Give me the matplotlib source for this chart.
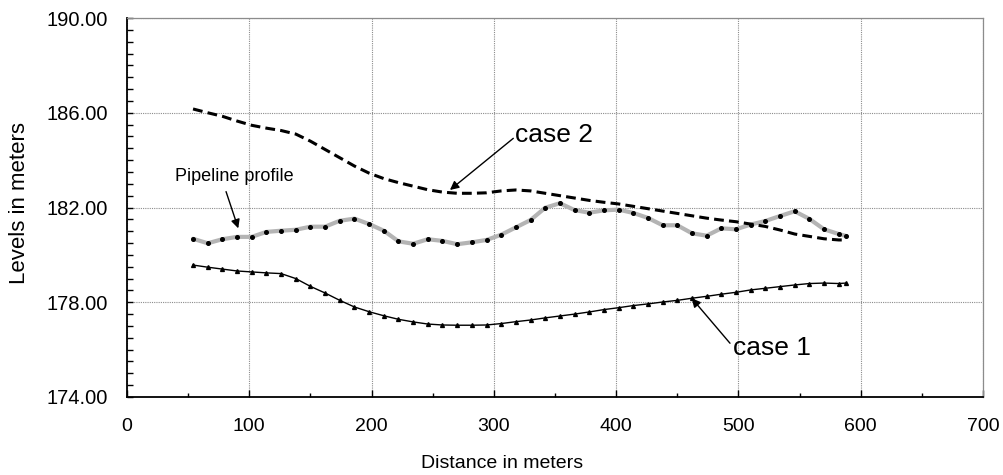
import matplotlib
matplotlib.use("Agg")
import matplotlib.pyplot as plt
from matplotlib.ticker import MultipleLocator, FormatStrFormatter

plt.rcParams['font.family'] = ['Liberation Sans', 'DejaVu Sans']

# ---- data ----
distance = [54, 66, 78, 90, 102, 114, 126, 138, 150, 162, 174, 186, 198, 210, 222,
            234, 246, 258, 270, 282, 294, 306, 318, 330, 342, 354, 366, 378, 390,
            402, 414, 426, 438, 450, 462, 474, 486, 498, 510, 522, 534, 546, 558,
            570, 582, 588]

pipeline = [180.68, 180.49, 180.66, 180.76, 180.76, 180.97, 181.02, 181.06, 181.19,
            181.19, 181.44, 181.53, 181.30, 181.02, 180.57, 180.47, 180.66, 180.59,
            180.45, 180.53, 180.63, 180.85, 181.16, 181.47, 181.99, 182.18, 181.89,
            181.78, 181.88, 181.91, 181.77, 181.56, 181.25, 181.25, 180.91, 180.81,
            181.12, 181.08, 181.28, 181.43, 181.64, 181.84, 181.52, 181.08, 180.88,
            180.80]

case1 = [179.57, 179.48, 179.40, 179.32, 179.28, 179.24, 179.21, 179.00, 178.67,
         178.39, 178.08, 177.80, 177.60, 177.43, 177.28, 177.17, 177.08, 177.04,
         177.03, 177.03, 177.04, 177.10, 177.18, 177.25, 177.34, 177.42, 177.50,
         177.59, 177.69, 177.77, 177.86, 177.93, 178.01, 178.08, 178.17, 178.25,
         178.34, 178.42, 178.52, 178.59, 178.66, 178.73, 178.79, 178.81, 178.79,
         178.81]

case2 = [186.16, 186.00, 185.85, 185.65, 185.47, 185.35, 185.25, 185.10, 184.80,
         184.45, 184.10, 183.75, 183.45, 183.22, 183.05, 182.90, 182.75, 182.65,
         182.60, 182.60, 182.62, 182.70, 182.74, 182.70, 182.60, 182.50, 182.40,
         182.30, 182.22, 182.15, 182.05, 181.95, 181.85, 181.75, 181.65, 181.55,
         181.47, 181.40, 181.30, 181.20, 181.05, 180.88, 180.78, 180.68, 180.63,
         180.63]

x_ticks = [0, 100, 200, 300, 400, 500, 600, 700]
y_ticks = [174, 178, 182, 186, 190]

x_label = "Distance in meters"
y_label = "Levels in meters"

# ---- figure ----
fig = plt.figure(figsize=(10.04, 4.75), dpi=100)
ax = fig.add_axes([127 / 1004, 1 - 397 / 475, 856 / 1004, 379 / 475])

ax.plot(distance, pipeline, color='#b4b4b4', lw=3.0, solid_capstyle='round',
        marker='o', markersize=2.6, markerfacecolor='black',
        markeredgecolor='black', zorder=3)
ax.plot(distance, case1, color='black', lw=1.0, marker='^', markersize=2.8,
        markerfacecolor='black', markeredgecolor='black', zorder=4)
ax.plot(distance, case2, color='black', lw=2.2, linestyle=(0, (3.2, 1.7)),
        zorder=4)

ax.set_xlim(0, 700)
ax.set_ylim(174, 190)
ax.set_xticks(x_ticks)
ax.set_yticks(y_ticks)
ax.xaxis.set_minor_locator(MultipleLocator(50))
ax.yaxis.set_minor_locator(MultipleLocator(0.5))
ax.yaxis.set_major_formatter(FormatStrFormatter('%.2f'))

ax.grid(True, which='major', color='#8c8c8c', lw=0.8, linestyle=(0, (1, 1)),
        zorder=0)
ax.set_axisbelow(True)

ax.tick_params(axis='x', which='major', direction='in', length=5, width=1,
               labelsize=14, pad=15)
ax.tick_params(axis='x', which='minor', direction='in', length=3, width=1)
ax.tick_params(axis='y', which='both', direction='in', length=4, width=1)
ax.tick_params(axis='y', which='major', labelsize=14.5, pad=14)

for s in ('left', 'bottom'):
    ax.spines[s].set_color('black')
    ax.spines[s].set_linewidth(1.3)
for s in ('top', 'right'):
    ax.spines[s].set_color('#8c8c8c')
    ax.spines[s].set_linewidth(0.9)

ax.set_xlabel(x_label, fontsize=14, va='center')
ax.xaxis.set_label_coords((502 - 127) / 856, (397 - 463) / 379)
ax.set_ylabel(y_label, fontsize=16, va='center')
ax.yaxis.set_label_coords((19 - 127) / 856, (397 - 203.5) / 379)

arrow = dict(arrowstyle='-|>', color='black', lw=1.0, mutation_scale=13,
             shrinkA=0, shrinkB=0)

ax.text(88.1, 183.13, "Pipeline profile", fontsize=13, ha='center',
        va='baseline')
ax.annotate('', xy=(91, 181.12), xytext=(81, 182.67), arrowprops=arrow)

ax.text(317.3, 184.75, "case 2", fontsize=19, ha='left', va='baseline')
ax.annotate('', xy=(264.1, 182.74), xytext=(315.9, 184.92), arrowprops=arrow)

ax.text(495.8, 175.77, "case 1", fontsize=19, ha='left', va='baseline')
ax.annotate('', xy=(461.8, 178.17), xytext=(493.1, 176.27), arrowprops=arrow)

fig.savefig("out.png", dpi=100)
